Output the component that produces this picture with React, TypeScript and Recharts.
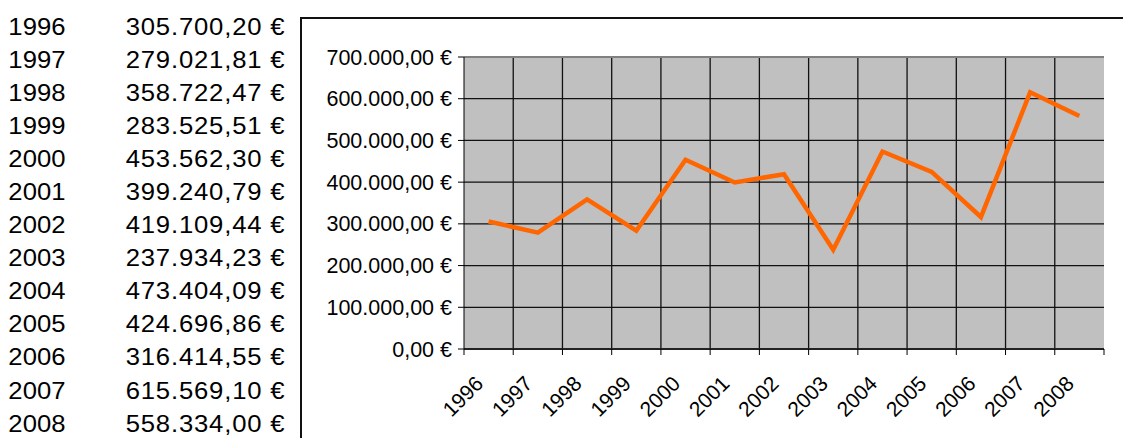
import { LineChart, Line, XAxis, YAxis, CartesianGrid, ReferenceLine } from 'recharts';

// values as printed in the table next to the chart
const years = ['1996', '1997', '1998', '1999', '2000', '2001', '2002', '2003', '2004', '2005', '2006', '2007', '2008'];
const amounts = [
  305700.2, 279021.81, 358722.47, 283525.51, 453562.3, 399240.79, 419109.44,
  237934.23, 473404.09, 424696.86, 316414.55, 615569.1, 558334.0,
];
const yTicks = [0, 100000, 200000, 300000, 400000, 500000, 600000, 700000];

const data = years.map((year, i) => ({ year, amount: amounts[i] }));

const W = 1123;
const H = 438;
const MARGIN = { top: 57, right: 19, bottom: 0, left: 304 };
const Y_AXIS_W = 160;
const X_AXIS_H = 89;
const PLOT_W = W - MARGIN.left - Y_AXIS_W - MARGIN.right;
const BAND = PLOT_W / years.length;
const FONT = '"Liberation Sans", Arial, sans-serif';

const euro = (v: number) => {
  const [int, dec] = v.toFixed(2).split('.');
  return int.replace(/\B(?=(\d{3})+(?!\d))/g, '.') + ',' + dec + ' €';
};

// category labels sit between the tick marks, like in Excel
function YearTick({ x, y, payload, index }: any) {
  const ax = x - 4;
  const ay = y + 30;
  return (
    <g>
      <line x1={x - BAND / 2} y1={y - 6} x2={x - BAND / 2} y2={y} stroke="#000" />
      {index === years.length - 1 && (
        <line x1={x + BAND / 2} y1={y - 6} x2={x + BAND / 2} y2={y} stroke="#000" />
      )}
      <text
        x={ax}
        y={ay}
        transform={`rotate(-45 ${ax} ${ay})`}
        textAnchor="end"
        fontSize={21}
        fontFamily={FONT}
        fill="#000"
      >
        {payload.value}
      </text>
    </g>
  );
}

export default function App() {
  return (
    <div
      style={{
        position: 'fixed',
        left: 0,
        top: 0,
        width: W,
        height: H,
        overflow: 'hidden',
        background: '#fff',
        fontFamily: FONT,
      }}
    >
      <div
        style={{
          position: 'absolute',
          left: 300,
          top: 17,
          width: 1000,
          height: 600,
          borderTop: '2px solid #111',
          borderLeft: '2px solid #111',
        }}
      />

      <div
        style={{
          position: 'absolute',
          left: 0,
          top: 11,
          width: 260,
          transform: 'scaleX(1.115)',
          transformOrigin: '0 0',
          fontSize: 23,
          color: '#000',
        }}
      >
        {years.map((year, i) => (
          <div key={year} style={{ position: 'relative', height: 33.05, lineHeight: '33.05px' }}>
            <span style={{ position: 'absolute', left: 7.5 }}>{year}</span>
            <span style={{ position: 'absolute', right: 4, letterSpacing: 0.75 }}>{euro(amounts[i])}</span>
          </div>
        ))}
      </div>

      <LineChart
        width={W}
        height={H}
        data={data}
        margin={MARGIN}
        style={{ position: 'absolute', left: 0, top: 0 }}
      >
        <CartesianGrid
          fill="#C0C0C0"
          fillOpacity={1}
          stroke="#111"
          strokeWidth={1.3}
          verticalCoordinatesGenerator={({ offset }: any) =>
            years.slice(1).map((_, k) => offset.left + ((k + 1) * offset.width) / years.length)
          }
        />
        <XAxis
          dataKey="year"
          height={X_AXIS_H}
          interval={0}
          padding={{ left: BAND / 2, right: BAND / 2 }}
          tickSize={6}
          tickMargin={0}
          tickLine={false}
          axisLine={{ stroke: '#222', strokeWidth: 2 }}
          tick={<YearTick />}
        />
        <YAxis
          width={Y_AXIS_W}
          domain={[0, 700000]}
          ticks={yTicks}
          tickFormatter={euro}
          tickSize={6}
          tickMargin={6}
          tick={{ fill: '#000', fontSize: 21.5, fontFamily: FONT }}
          tickLine={{ stroke: '#000' }}
          axisLine={{ stroke: '#000' }}
        />
        <YAxis
          yAxisId="right"
          orientation="right"
          width={0}
          domain={[0, 700000]}
          tick={false}
          tickLine={false}
          axisLine={{ stroke: '#808080', strokeWidth: 2 }}
        />
        <ReferenceLine y={700000} stroke="#808080" strokeWidth={2} />
        <Line
          dataKey="amount"
          stroke="#FF6600"
          strokeWidth={4.5}
          dot={false}
          isAnimationActive={false}
        />
      </LineChart>
    </div>
  );
}
